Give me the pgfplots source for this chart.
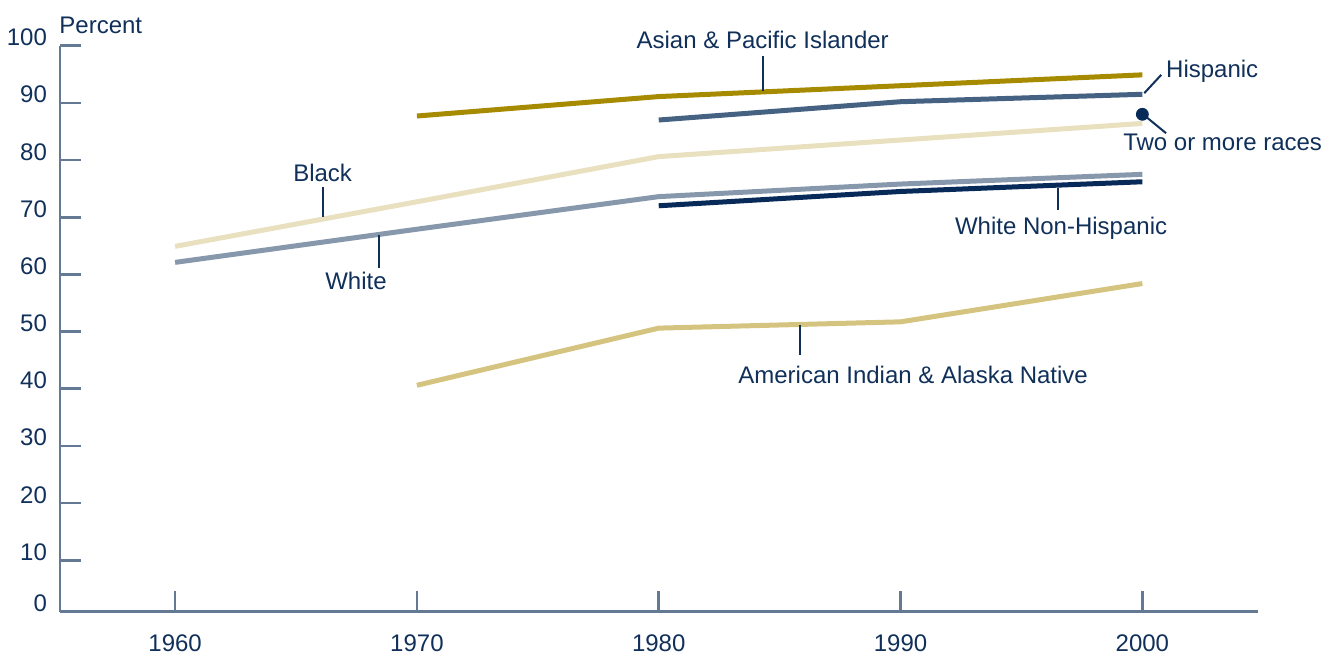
\documentclass[border=0pt]{standalone}
\usepackage{pgfplots}
\pgfplotsset{compat=1.18}
\usepackage{fontspec}
\setmainfont{Liberation Sans}

\definecolor{txt}{RGB}{16,48,90}
\definecolor{axc}{RGB}{100,122,148}
\definecolor{api}{RGB}{166,138,0}
\definecolor{hisp}{RGB}{70,98,130}
\definecolor{blk}{RGB}{232,224,190}
\definecolor{wht}{RGB}{135,152,172}
\definecolor{wnh}{RGB}{8,42,88}
\definecolor{aian}{RGB}{212,196,128}

\tikzset{lab/.style={font=\fontsize{12pt}{14pt}\selectfont, text=txt, inner sep=0pt},
         lead/.style={draw=txt, line width=1pt}}

\begin{document}
\begin{tikzpicture}
\begin{axis}[
    scale only axis,
    width=599.2pt, height=283pt,
    xmin=1955.24, xmax=2004.8,
    ymin=1, ymax=100,
    axis lines*=left,
    axis line style={axc, line width=1.3pt},
    tick align=inside,
    major tick length=10.5pt,
    tick style={axc, line width=1.3pt},
    xtick={1960,1970,1980,1990,2000},
    ytick={1,10,20,30,40,50,60,70,80,90,100},
    yticklabels={0,10,20,30,40,50,60,70,80,90,100},
    /pgf/number format/1000 sep={},
    /pgf/number format/assume math mode=true,
    tick label style={font=\fontsize{12pt}{14pt}\selectfont, text=txt},
    xticklabel style={yshift=-8pt},
    yticklabel style={anchor=base east, xshift=-3pt},
    clip=false,
    line join=round,
]
\coordinate (O) at (rel axis cs:0,0);

% Black
\addplot[blk, line width=2.5pt] coordinates {(1960,64.9) (1970,72.7) (1980,80.6) (1990,83.5) (2000,86.4)};
% White
\addplot[wht, line width=2.5pt] coordinates {(1960,62.1) (1970,67.9) (1980,73.6) (1990,75.8) (2000,77.5)};
% American Indian & Alaska Native
\addplot[aian, line width=2.5pt] coordinates {(1970,40.6) (1980,50.6) (1990,51.7) (2000,58.4)};
% White Non-Hispanic
\addplot[wnh, line width=2.5pt] coordinates {(1980,72.0) (1990,74.5) (2000,76.2)};
% Hispanic
\addplot[hisp, line width=2.5pt] coordinates {(1980,87.0) (1990,90.2) (2000,91.5)};
% Asian & Pacific Islander
\addplot[api, line width=2.5pt] coordinates {(1970,87.7) (1980,91.1) (1990,93.0) (2000,94.9)};
% Two or more races
\addplot[only marks, mark=*, mark size=3pt, wnh] coordinates {(2000,88.0)};

% labels
\node[lab, anchor=base west] at (axis cs:1955.2,100) [yshift=6.2pt] {Percent};

\draw[lead] (axis cs:1984.32,98.2) -- (axis cs:1984.32,92.0);
\node[lab, anchor=base] at (axis cs:1984.3,99.5) {Asian \& Pacific Islander};

\draw[lead] (axis cs:2000.08,91.7) -- (axis cs:2000.78,94.9);
\node[lab, anchor=base west] at (axis cs:2000.97,94.5) {Hispanic};

\draw[lead] (axis cs:2000.2,87.4) -- (axis cs:2000.98,84.7);
\node[lab, anchor=base] at (axis cs:2003.32,81.75) {Two or more races};

\draw[lead] (axis cs:1966.12,75.3) -- (axis cs:1966.12,70.1);
\node[lab, anchor=base] at (axis cs:1966.1,76.2) {Black};

\draw[lead] (axis cs:1968.44,66.9) -- (axis cs:1968.44,61.1);
\node[lab, anchor=base] at (axis cs:1967.48,57.4) {White};

\draw[lead] (axis cs:1996.52,75.1) -- (axis cs:1996.52,71.3);
\node[lab, anchor=base] at (axis cs:1996.64,66.9) {White Non-Hispanic};

\draw[lead] (axis cs:1985.85,51.2) -- (axis cs:1985.85,45.9);
\node[lab, anchor=base] at (axis cs:1990.52,41.0) {American Indian \& Alaska Native};
\end{axis}
\pgfresetboundingbox
\path (O) ++(-30pt,-23.15pt) rectangle ++(668.5pt,329pt);
\end{tikzpicture}
\end{document}
